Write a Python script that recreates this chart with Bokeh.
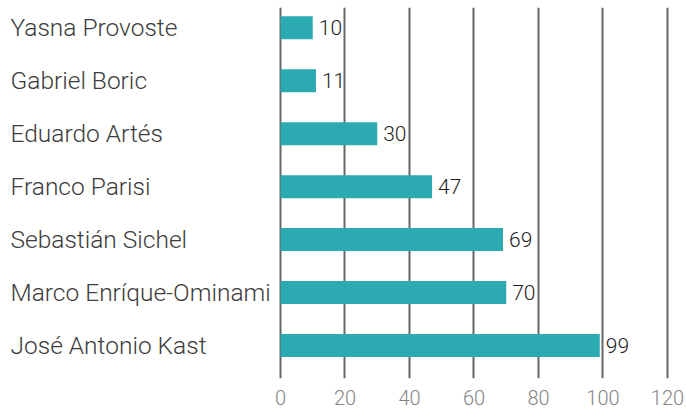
from bokeh.plotting import figure
from bokeh.models import Range1d, FixedTicker, LabelSet, ColumnDataSource
from bokeh.core.properties import value
from bokeh.embed import file_html
from bokeh.resources import INLINE

candidates = ["Yasna Provoste", "Gabriel Boric", "Eduardo Artés", "Franco Parisi",
              "Sebastián Sichel", "Marco Enríque-Ominami", "José Antonio Kast"]
votes = [10, 11, 30, 47, 69, 70, 99]
x_ticks = [0, 20, 40, 60, 80, 100, 120]

FONT = "Roboto Light"
n = len(candidates)
ypos = [n - 1 - i for i in range(n)]
src = ColumnDataSource(dict(name=candidates, value=votes, y=ypos,
                            label=[str(v) for v in votes]))

p = figure(width=686, height=408, output_backend="svg", toolbar_location=None,
           x_range=Range1d(-86.82, 125.9), y_range=Range1d(-0.623, 6.383),
           min_border_left=0, min_border_right=0, min_border_top=7,
           min_border_bottom=30)
p.outline_line_color = None
p.background_fill_color = "white"
p.border_fill_color = "white"
p.yaxis.visible = False
p.ygrid.visible = False

p.xaxis.ticker = FixedTicker(ticks=x_ticks)
p.xgrid.ticker = FixedTicker(ticks=x_ticks)
p.xgrid.grid_line_color = "#666666"
p.xgrid.grid_line_width = 2
p.xaxis.axis_line_color = None
p.xaxis.major_tick_line_color = None
p.xaxis.minor_tick_line_color = None
p.xaxis.major_label_text_font = FONT
p.xaxis.major_label_text_font_size = "20px"
p.xaxis.major_label_text_color = "#858585"
p.xaxis.major_label_standoff = 5

p.hbar(y="y", left=0, right="value", height=0.434, source=src,
       fill_color="#2CAAB1", line_color=None)

names = LabelSet(x=10, x_units="screen", y="y", text="name", source=src,
                 text_font=value(FONT), text_font_size="24.5px",
                 text_baseline="middle", text_color="#3c3c3c")
vals = LabelSet(x="value", y="y", text="label", source=src, x_offset=6,
                text_font=value(FONT), text_font_size="21px",
                text_baseline="middle", text_color="#1e1e1e")
p.add_layout(names)
p.add_layout(vals)

open("out.html", "w").write(file_html(p, INLINE))
